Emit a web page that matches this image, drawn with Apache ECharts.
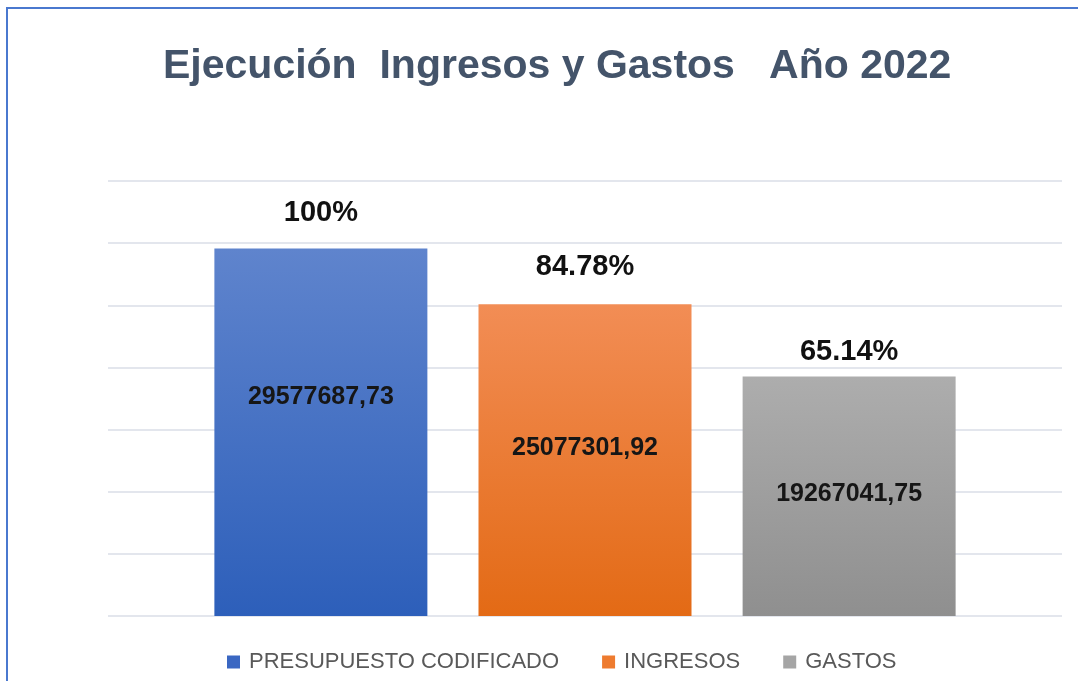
<!DOCTYPE html>
<html>
<head>
<meta charset="utf-8">
<title>Ejecución Ingresos y Gastos Año 2022</title>
<script src="https://cdn.jsdelivr.net/npm/echarts@6/dist/echarts.min.js"></script>
<style>
  html, body { margin: 0; padding: 0; background: #fff; }
  body { width: 1078px; height: 681px; overflow: hidden; position: relative; }
  #grafico { position: absolute; left: 0; top: 0; width: 1078px; height: 681px; }
  /* marco azul del gráfico (solo se ven el lado izquierdo y el superior) */
  .marco {
    position: absolute; left: 6px; top: 7px; width: 1200px; height: 800px;
    border-left: 2px solid #4a78cf; border-top: 2px solid #4a78cf;
    pointer-events: none;
  }
</style>
</head>
<body>
<div id="grafico"></div>
<div class="marco"></div>
<script>
// datos
const series_nombres = ["PRESUPUESTO CODIFICADO", "INGRESOS", "GASTOS"];
const valores = [29577687.73, 25077301.92, 19267041.75];
const porcentajes = ["100%", "84.78%", "65.14%"];
const eje_max = 35000000;
const eje_intervalo = 5000000;

const colores_arriba = ["#5f84cd", "#f28d55", "#adadad"];
const colores_abajo = ["#2d5fba", "#e36a15", "#8f8f8f"];
const colores_leyenda = ["#3a67c2", "#ee7b2f", "#a5a5a5"];
// ajustes manuales de etiquetas (como en el original)
const desplaz_valor = [-35, -12, -2];
const distancia_pct = [20, 22, 10];

const fuente = "'Liberation Sans', Arial, sans-serif";

const miGrafico = echarts.init(document.getElementById("grafico"));

const series = series_nombres.map((nombre, i) => ({
  name: nombre,
  type: "bar",
  data: [valores[i]],
  barWidth: 213,
  barGap: "24%",
  itemStyle: {
    color: new echarts.graphic.LinearGradient(0, 0, 0, 1, [
      { offset: 0, color: colores_arriba[i] },
      { offset: 1, color: colores_abajo[i] },
    ]),
  },
  label: {
    show: true,
    position: "inside",
    offset: [0, desplaz_valor[i]],
    formatter: (p) => p.value.toFixed(2).replace(".", ","),
    fontFamily: fuente,
    fontSize: 25,
    fontWeight: "bold",
    color: "#161616",
  },
  markPoint: {
    symbol: "rect",
    symbolSize: 1,
    itemStyle: { color: "rgba(0,0,0,0)" },
    data: [{ type: "max" }],
    label: {
      show: true,
      position: "top",
      distance: distancia_pct[i],
      formatter: () => porcentajes[i],
      fontFamily: fuente,
      fontSize: 29,
      fontWeight: "bold",
      color: "#111",
    },
  },
  emphasis: { disabled: true },
}));

const option = {
  animation: false,
  backgroundColor: "#fff",
  title: {
    text: "Ejecución  Ingresos y Gastos   Año 2022",
    left: 158,
    top: 41,
    textStyle: {
      fontFamily: fuente,
      fontSize: 41,
      fontWeight: "bold",
      color: "#44546a",
    },
  },
  legend: {
    left: 222,
    top: 646,
    itemWidth: 13,
    itemHeight: 13,
    itemGap: 43,
    icon: "rect",
    data: series_nombres.map((n, i) => ({
      name: n,
      itemStyle: { color: colores_leyenda[i] },
    })),
    textStyle: {
      fontFamily: fuente,
      fontSize: 22,
      color: "#595959",
      padding: [0, 0, 0, 4],
    },
  },
  grid: { left: 108, right: 16, top: 181, bottom: 65 },
  xAxis: {
    type: "category",
    data: ["Ejecución"],
    axisLine: { show: false },
    axisTick: { show: false },
    axisLabel: { show: false },
  },
  yAxis: {
    type: "value",
    min: 0,
    max: eje_max,
    interval: eje_intervalo,
    axisLine: { show: false },
    axisTick: { show: false },
    axisLabel: { show: false },
    splitLine: { lineStyle: { color: "#e3e6ed", width: 2 } },
  },
  series: series,
};

miGrafico.setOption(option);
</script>
</body>
</html>
